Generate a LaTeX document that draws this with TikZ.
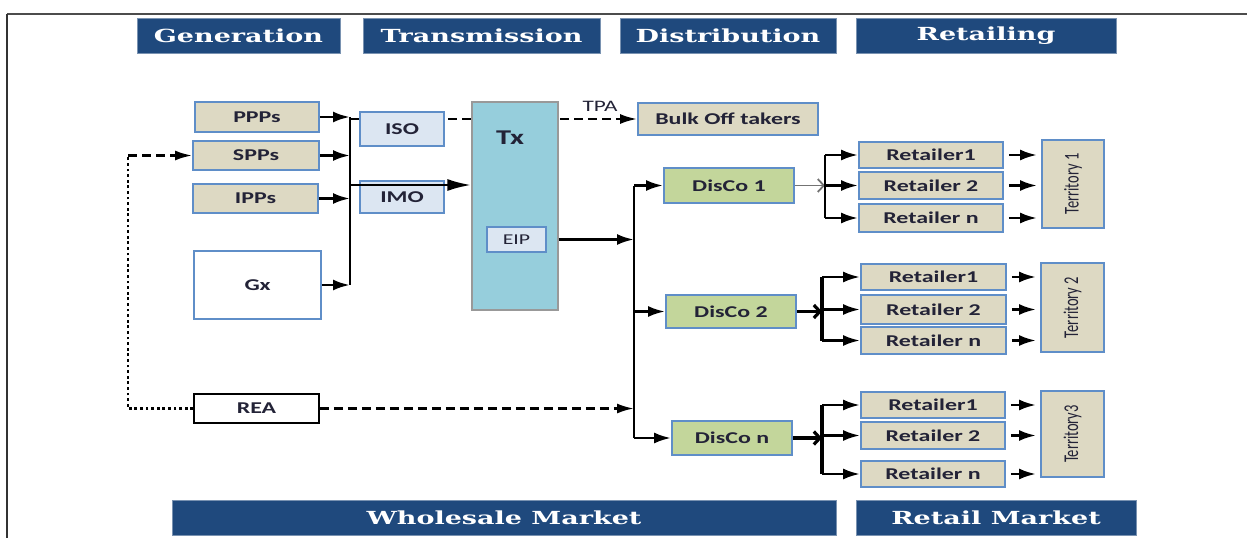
\documentclass[tikz,border=0pt]{standalone}
\usepackage{fontspec}
\usepackage{graphicx}
\usetikzlibrary{arrows.meta,backgrounds}

\newfontfamily\boxfont[FakeStretch=1.45]{Carlito}
\newfontfamily\hdrfont[FakeStretch=1.5]{DejaVu Serif}
\newfontfamily\terfont{Carlito}

\definecolor{hdrblue}{RGB}{31,73,125}
\definecolor{edgeblue}{RGB}{95,142,200}
\definecolor{tanfill}{RGB}{221,217,195}
\definecolor{isofill}{RGB}{220,230,242}
\definecolor{txfill}{RGB}{150,206,220}
\definecolor{discofill}{RGB}{195,214,155}
\definecolor{txtdark}{RGB}{35,35,55}

\tikzset{
  hdr/.style={fill=hdrblue,draw=hdrblue!60!white,line width=0.8pt,text=white,
    font=\hdrfont\bfseries\fontsize{18}{20}\selectfont,minimum height=35pt,inner sep=0pt},
  box/.style={draw=edgeblue,line width=1.8pt,text=txtdark,inner sep=0pt,
    font=\boxfont\bfseries\fontsize{16.5}{18}\selectfont},
  tanbox/.style={box,fill=tanfill},
  isobox/.style={box,fill=isofill},
  discobox/.style={box,fill=discofill},
  lbl/.style={text=txtdark,inner sep=0pt,font=\boxfont\bfseries\fontsize{16}{18}\selectfont},
  arr/.style={line width=2.8pt,-{Latex[length=17pt,width=11pt]}},
  bigarr/.style={line width=2.8pt,-{Latex[length=24pt,width=12pt]}},
  openarr/.style={line width=2.8pt,-{Straight Barb[length=6pt,width=13pt]}},
  busline/.style={line width=2.8pt},
  dasharr/.style={line width=2.4pt,dash pattern=on 9pt off 5pt,-{Latex[length=17pt,width=10pt]}},
  dotline/.style={line width=2.8pt,dash pattern=on 2.8pt off 2.8pt},
}

\begin{document}
\begin{tikzpicture}[x=1pt,y=-1pt]
\useasboundingbox (0,0) rectangle (1247,538);
% frame
\draw[line width=2.4pt,black!70] (7,14) -- (1247,14);
\draw[line width=1.6pt,black!80] (7,14) -- (7,538);

% headers
\node[hdr,minimum width=203pt] (gen) at (238.5,35.5) {Generation};
\node[hdr,minimum width=237pt] (tra) at (481.5,35.5) {Transmission};
\node[hdr,minimum width=216pt] (dis) at (728,35.5) {Distribution};
\node[hdr,minimum width=260pt] (ret) at (986,35.5) {Retailing};
\node[hdr,minimum width=664pt] (whole) at (504,517.5) {Wholesale Market};
\node[hdr,minimum width=280pt] (retm) at (996,517.5) {Retail Market};

% generation
\node[tanbox,minimum width=124pt,minimum height=30pt] (ppp) at (257,117) {PPPs};
\node[tanbox,minimum width=126pt,minimum height=29pt] (spp) at (256,155.5) {SPPs};
\node[tanbox,minimum width=125pt,minimum height=29pt] (ipp) at (255.5,198.5) {IPPs};
\node[box,fill=white,minimum width=127pt,minimum height=68pt] (gx) at (257.5,285) {Gx};
\node[box,draw=black,line width=1.6pt,fill=white,minimum width=125pt,minimum height=29pt] (rea) at (256.5,408.5) {REA};

% transmission
\node[isobox,minimum width=84pt,minimum height=34pt] (iso) at (402,129) {ISO};
\node[isobox,minimum width=84pt,minimum height=32pt] (imo) at (402,197) {IMO};
\node[box,draw=black!40,line width=1.2pt,fill=txfill,minimum width=86pt,minimum height=208pt] (tx) at (515,206) {};
\node[lbl,font=\boxfont\bfseries\fontsize{21}{23}\selectfont] (txlbl) at (510,138) {Tx};
\node[isobox,line width=1.5pt,font=\boxfont\fontsize{15}{16}\selectfont,minimum width=59pt,minimum height=25pt] (eip) at (516.5,239.5) {EIP};
\node[lbl,font=\boxfont\fontsize{16}{18}\selectfont] (tpa) at (600,106) {TPA};
\node[tanbox,minimum width=180pt,minimum height=32pt] (bulk) at (728,119) {Bulk Off takers};

% distribution
\node[discobox,minimum width=130pt,minimum height=35pt] (disco1) at (729,185.5) {DisCo 1};
\node[discobox,minimum width=130pt,minimum height=33pt] (disco2) at (731,311.5) {DisCo 2};
\node[discobox,minimum width=120pt,minimum height=34pt] (discon) at (732,438) {DisCo n};

% retailing
\node[tanbox,minimum width=144pt,minimum height=26pt] (r11) at (931,155) {Retailer1};
\node[tanbox,minimum width=144pt,minimum height=27pt] (r12) at (931,185.5) {Retailer 2};
\node[tanbox,minimum width=144pt,minimum height=28pt] (r1n) at (931,218) {Retailer n};
\node[tanbox,minimum width=145pt,minimum height=26pt] (r21) at (933.5,277) {Retailer1};
\node[tanbox,minimum width=145pt,minimum height=29pt] (r22) at (933.5,309.5) {Retailer 2};
\node[tanbox,minimum width=145pt,minimum height=27pt] (r2n) at (933.5,340.5) {Retailer n};
\node[tanbox,minimum width=144pt,minimum height=26pt] (r31) at (933,405) {Retailer1};
\node[tanbox,minimum width=144pt,minimum height=27pt] (r32) at (933,435.5) {Retailer 2};
\node[tanbox,minimum width=144pt,minimum height=26pt] (r3n) at (933,474) {Retailer n};
\node[tanbox,minimum width=62pt,minimum height=88pt] (ter1) at (1073,184)
  {\rotatebox{90}{\terfont\mdseries\fontsize{14.5}{16}\selectfont\scalebox{1}[1.45]{Territory 1}}};
\node[tanbox,minimum width=63pt,minimum height=89pt] (ter2) at (1072.5,307.5)
  {\rotatebox{90}{\terfont\mdseries\fontsize{14.5}{16}\selectfont\scalebox{1}[1.45]{Territory 2}}};
\node[tanbox,minimum width=63pt,minimum height=86pt] (ter3) at (1072.5,434)
  {\rotatebox{90}{\terfont\mdseries\fontsize{14.5}{16}\selectfont\scalebox{1}[1.45]{Territory3}}};

% bus positions
\coordinate (gbus) at (350,0);
\coordinate (dbus) at (634,0);
\coordinate (loop) at (128,0);
\coordinate (rbus1) at (825,0);
\coordinate (rbus2) at (822,0);
\coordinate (rbus3) at (822,0);
\coordinate (txin) at (350,185);

% TPA line behind ISO and Tx
\begin{pgfonlayer}{background}
\draw[dasharr] (gbus |- bulk.west) -- (bulk.west);
\end{pgfonlayer}

% generation to transmission
\draw[busline] (gbus |- ppp.east) -- (gbus |- gx.east);
\draw[arr] (ppp.east) -- (gbus |- ppp.east);
\draw[arr] (spp.east) -- (gbus |- spp.east);
\draw[arr] (ipp.east) -- (gbus |- ipp.east);
\draw[arr] (gx.east) -- (gbus |- gx.east);
\draw[bigarr] (txin) -- (txin -| tx.west);

% REA
\draw[dotline] (rea.west) -- (loop |- rea.west) -- (loop |- spp.west);
\draw[dasharr] (loop |- spp.west) -- (spp.west);
\draw[dasharr] (rea.east) -- (dbus |- rea.east);

% transmission to distribution
\draw[arr] (tx.east |- eip) -- (dbus |- eip);
\draw[busline] (dbus |- disco1) -- (dbus |- discon);
\draw[arr] (dbus |- disco1) -- (disco1.west);
\draw[arr] (dbus |- disco2) -- (disco2.west);
\draw[arr] (dbus |- discon) -- (discon.west);

% distribution to retailers
\draw[openarr,line width=1.8pt,black!55] (disco1.east) -- (rbus1 |- disco1.east);
\draw[busline] (rbus1 |- r11) -- (rbus1 |- r1n);
\draw[arr] (rbus1 |- r11) -- (r11.west);
\draw[arr] (rbus1 |- r12) -- (r12.west);
\draw[arr] (rbus1 |- r1n) -- (r1n.west);
\draw[openarr,line width=3.2pt] (disco2.east) -- (rbus2 |- disco2.east);
\draw[busline,line width=4pt] (rbus2 |- r21) -- (rbus2 |- r2n);
\draw[arr] (rbus2 |- r21) -- (r21.west);
\draw[arr] (rbus2 |- r22) -- (r22.west);
\draw[arr] (rbus2 |- r2n) -- (r2n.west);
\draw[openarr,line width=3.2pt] (discon.east) -- (rbus3 |- discon.east);
\draw[busline,line width=4pt] (rbus3 |- r31) -- (rbus3 |- r3n);
\draw[arr] (rbus3 |- r31) -- (r31.west);
\draw[arr] (rbus3 |- r32) -- (r32.west);
\draw[arr] (rbus3 |- r3n) -- (r3n.west);

% retailers to territories
\draw[arr,shorten <=5pt,shorten >=4pt] (r11.east) -- (ter1.west |- r11.east);
\draw[arr,shorten <=5pt,shorten >=4pt] (r12.east) -- (ter1.west |- r12.east);
\draw[arr,shorten <=5pt,shorten >=4pt] (r1n.east) -- (ter1.west |- r1n.east);
\draw[arr,shorten <=5pt,shorten >=4pt] (r21.east) -- (ter2.west |- r21.east);
\draw[arr,shorten <=5pt,shorten >=4pt] (r22.east) -- (ter2.west |- r22.east);
\draw[arr,shorten <=5pt,shorten >=4pt] (r2n.east) -- (ter2.west |- r2n.east);
\draw[arr,shorten <=5pt,shorten >=4pt] (r31.east) -- (ter3.west |- r31.east);
\draw[arr,shorten <=5pt,shorten >=4pt] (r32.east) -- (ter3.west |- r32.east);
\draw[arr,shorten <=5pt,shorten >=4pt] (r3n.east) -- (ter3.west |- r3n.east);
\end{tikzpicture}
\end{document}
